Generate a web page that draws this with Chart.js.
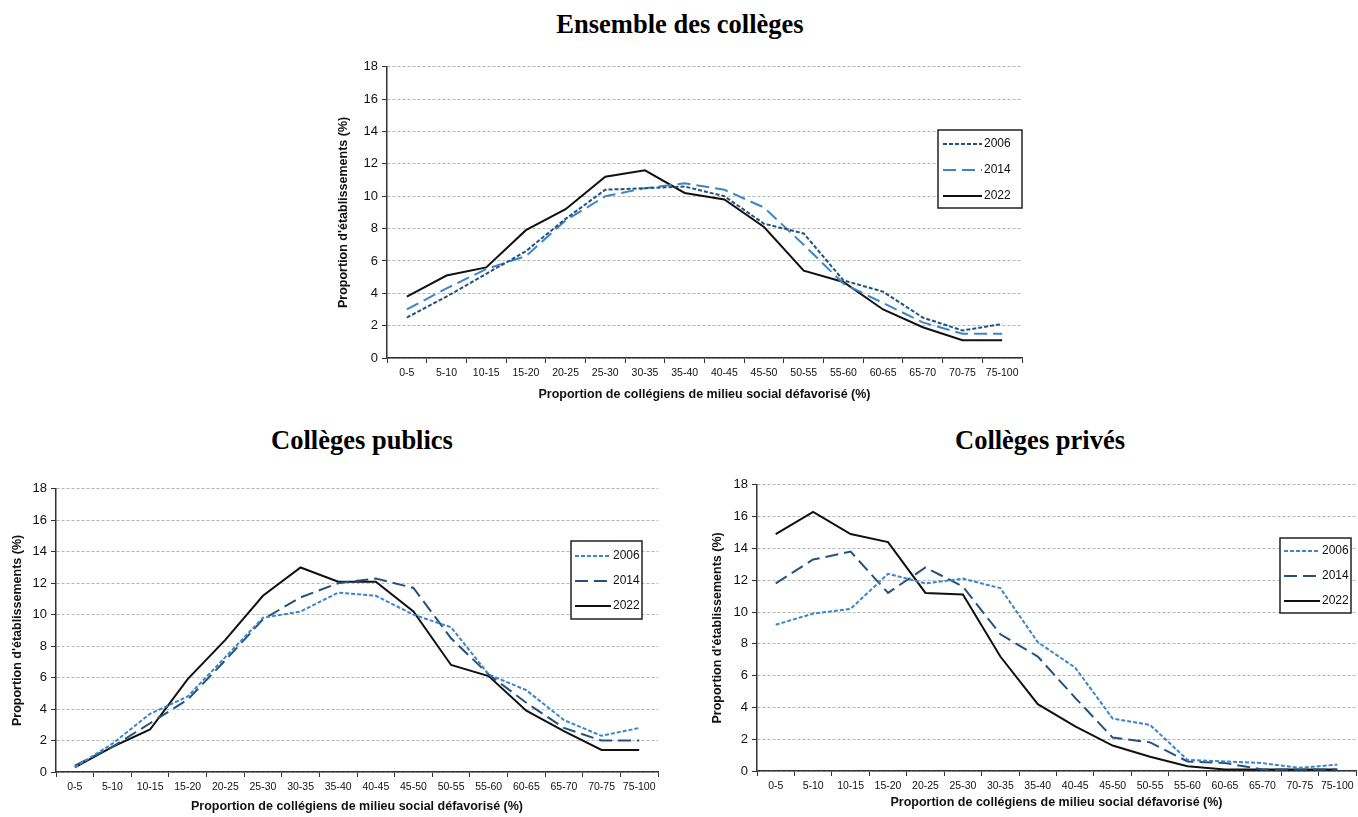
<!DOCTYPE html>
<html>
<head>
<meta charset="utf-8">
<script src="https://cdn.jsdelivr.net/npm/chart.js@4"></script>
<style>
  body { margin: 0; background: #fff; width: 1358px; height: 817px; position: relative; overflow: hidden; }
  .titre { position: absolute; font-family: "Liberation Serif", serif; font-weight: bold; font-size: 26.5px; color: #000; transform: translateX(-50%); white-space: nowrap; }
  canvas { position: absolute; }
</style>
</head>
<body>
<div class="titre" style="left:680px; top:9px;">Ensemble des collèges</div>
<div class="titre" style="left:362px; top:425px;">Collèges publics</div>
<div class="titre" style="left:1040px; top:425px;">Collèges privés</div>

<canvas id="ensemble" style="left:332px; top:55px;"></canvas>
<canvas id="publics" style="left:6px; top:477px;"></canvas>
<canvas id="prives" style="left:706px; top:473px;"></canvas>

<script>
const tranches = ["0-5", "5-10", "10-15", "15-20", "20-25", "25-30", "30-35", "35-40",
  "40-45", "45-50", "50-55", "55-60", "60-65", "65-70", "70-75", "75-100"];
const annees = ["2006", "2014", "2022"];

// Ensemble des collèges
const ensemble2006 = [2.5, 3.8, 5.2, 6.6, 8.6, 10.4, 10.5, 10.6, 10.0, 8.3, 7.7, 4.8, 4.1, 2.5, 1.7, 2.1];
const ensemble2014 = [3.0, 4.3, 5.5, 6.3, 8.5, 10.0, 10.5, 10.8, 10.4, 9.3, 7.0, 4.6, 3.4, 2.2, 1.5, 1.5];
const ensemble2022 = [3.8, 5.1, 5.6, 7.9, 9.2, 11.2, 11.6, 10.2, 9.8, 8.1, 5.4, 4.7, 3.0, 1.9, 1.1, 1.1];

// Collèges publics
const publics2006 = [0.3, 1.8, 3.7, 4.8, 7.3, 9.8, 10.2, 11.4, 11.2, 10.0, 9.2, 6.2, 5.2, 3.3, 2.3, 2.8];
const publics2014 = [0.4, 1.6, 3.1, 4.6, 7.1, 9.7, 11.1, 12.0, 12.3, 11.7, 8.5, 6.2, 4.4, 2.8, 2.0, 2.0];
const publics2022 = [0.3, 1.6, 2.7, 5.9, 8.4, 11.2, 13.0, 12.1, 12.1, 10.2, 6.8, 6.1, 3.9, 2.6, 1.4, 1.4];

// Collèges privés
const prives2006 = [9.2, 9.9, 10.2, 12.4, 11.8, 12.1, 11.5, 8.1, 6.5, 3.3, 2.9, 0.7, 0.6, 0.5, 0.2, 0.4];
const prives2014 = [11.8, 13.3, 13.8, 11.2, 12.8, 11.6, 8.6, 7.2, 4.6, 2.1, 1.8, 0.6, 0.5, 0.1, 0.1, 0.1];
const prives2022 = [14.9, 16.3, 14.9, 14.4, 11.2, 11.1, 7.2, 4.2, 2.8, 1.6, 0.9, 0.3, 0.1, 0.1, 0.1, 0.1];

const bleuFonce = "#24527f";
const bleuClair = "#3b86c8";
const noir = "#111111";

// petite légende encadrée dessinée dans le graphique
const legendeBoite = {
  id: "legendeBoite",
  afterDraw(chart, args, opts) {
    const ctx = chart.ctx;
    ctx.save();
    ctx.fillStyle = "#fff";
    ctx.fillRect(opts.x, opts.y, opts.w, opts.h);
    ctx.strokeStyle = "#222";
    ctx.lineWidth = 1.5;
    ctx.strokeRect(opts.x, opts.y, opts.w, opts.h);
    chart.data.datasets.forEach((ds, i) => {
      const y = opts.y + opts.first + i * opts.step;
      ctx.beginPath();
      ctx.setLineDash(ds.borderDash || []);
      ctx.strokeStyle = ds.borderColor;
      ctx.lineWidth = ds.borderWidth;
      ctx.moveTo(opts.x + opts.l0, y);
      ctx.lineTo(opts.x + opts.l1, y);
      ctx.stroke();
      ctx.setLineDash([]);
      ctx.fillStyle = "#111";
      ctx.font = "12px 'Liberation Sans', Arial, sans-serif";
      ctx.textBaseline = "middle";
      ctx.fillText(ds.label, opts.x + opts.l1 + 2, y);
    });
    ctx.restore();
  }
};

function creerGraphique(id, largeur, hauteur, series, styles, cadre) {
  const canvas = document.getElementById(id);
  canvas.width = largeur;
  canvas.height = hauteur;
  canvas.style.width = largeur + "px";
  canvas.style.height = hauteur + "px";

  new Chart(canvas, {
    type: "line",
    data: {
      labels: tranches,
      datasets: series.map((s, i) => ({
        label: annees[i],
        data: s,
        borderColor: styles[i].color,
        borderDash: styles[i].dash,
        borderWidth: 2,
        pointRadius: 0,
        tension: 0,
        fill: false
      }))
    },
    options: {
      responsive: false,
      animation: false,
      layout: { padding: { top: cadre.top, right: cadre.right, left: 0, bottom: 0 } },
      plugins: {
        legend: { display: false },
        tooltip: { enabled: false },
        legendeBoite: cadre.legende
      },
      scales: {
        x: {
          offset: true,
          afterFit: scale => { scale.height = cadre.xHeight; },
          grid: {
            offset: true,
            drawOnChartArea: false,
            tickLength: 5,
            color: "#333",
            lineWidth: 1
          },
          border: { color: "#333", width: 1.5 },
          ticks: {
            maxRotation: 0,
            autoSkip: false,
            padding: 4,
            color: "#111",
            font: { family: "'Liberation Sans', Arial, sans-serif", size: 10.5 }
          },
          title: {
            display: true,
            text: "Proportion de collégiens de milieu social défavorisé (%)",
            color: "#111",
            padding: { top: 2, bottom: 3 },
            font: { family: "'Liberation Sans', Arial, sans-serif", size: 12.5, weight: "bold" }
          }
        },
        y: {
          min: 0,
          max: 18,
          afterFit: scale => { scale.width = cadre.yWidth; },
          grid: {
            color: "#b5b5b5",
            lineWidth: 1,
            tickLength: 5,
            tickColor: "#333",
            tickBorderDash: []
          },
          border: { color: "#333", width: 1.5, dash: [3, 2] },
          ticks: {
            stepSize: 2,
            padding: 4,
            color: "#111",
            font: { family: "'Liberation Sans', Arial, sans-serif", size: 13 }
          },
          title: {
            display: true,
            text: "Proportion d'établissements (%)",
            color: "#111",
            padding: { top: 4, bottom: 2 },
            font: { family: "'Liberation Sans', Arial, sans-serif", size: 12.5, weight: "bold" }
          }
        }
      }
    },
    plugins: [legendeBoite]
  });
}

const pointilles = [4, 2];
const tirets = [13, 6];

creerGraphique("ensemble", 698, 350,
  [ensemble2006, ensemble2014, ensemble2022],
  [{ color: bleuFonce, dash: pointilles }, { color: bleuClair, dash: tirets }, { color: noir, dash: [] }],
  { top: 10, right: 8, xHeight: 47, yWidth: 55,
    legende: { x: 606, y: 75, w: 84, h: 78, first: 14, step: 26, l0: 5, l1: 44 } });

creerGraphique("publics", 656, 340,
  [publics2006, publics2014, publics2022],
  [{ color: bleuClair, dash: pointilles }, { color: bleuFonce, dash: tirets }, { color: noir, dash: [] }],
  { top: 10, right: 4, xHeight: 45, yWidth: 50,
    legende: { x: 565, y: 64, w: 71, h: 78, first: 15, step: 25, l0: 4, l1: 40 } });

creerGraphique("prives", 652, 340,
  [prives2006, prives2014, prives2022],
  [{ color: bleuClair, dash: pointilles }, { color: bleuFonce, dash: tirets }, { color: noir, dash: [] }],
  { top: 10, right: 2, xHeight: 42, yWidth: 51,
    legende: { x: 574, y: 65, w: 71, h: 75, first: 13, step: 25, l0: 4, l1: 40 } });
</script>
</body>
</html>
